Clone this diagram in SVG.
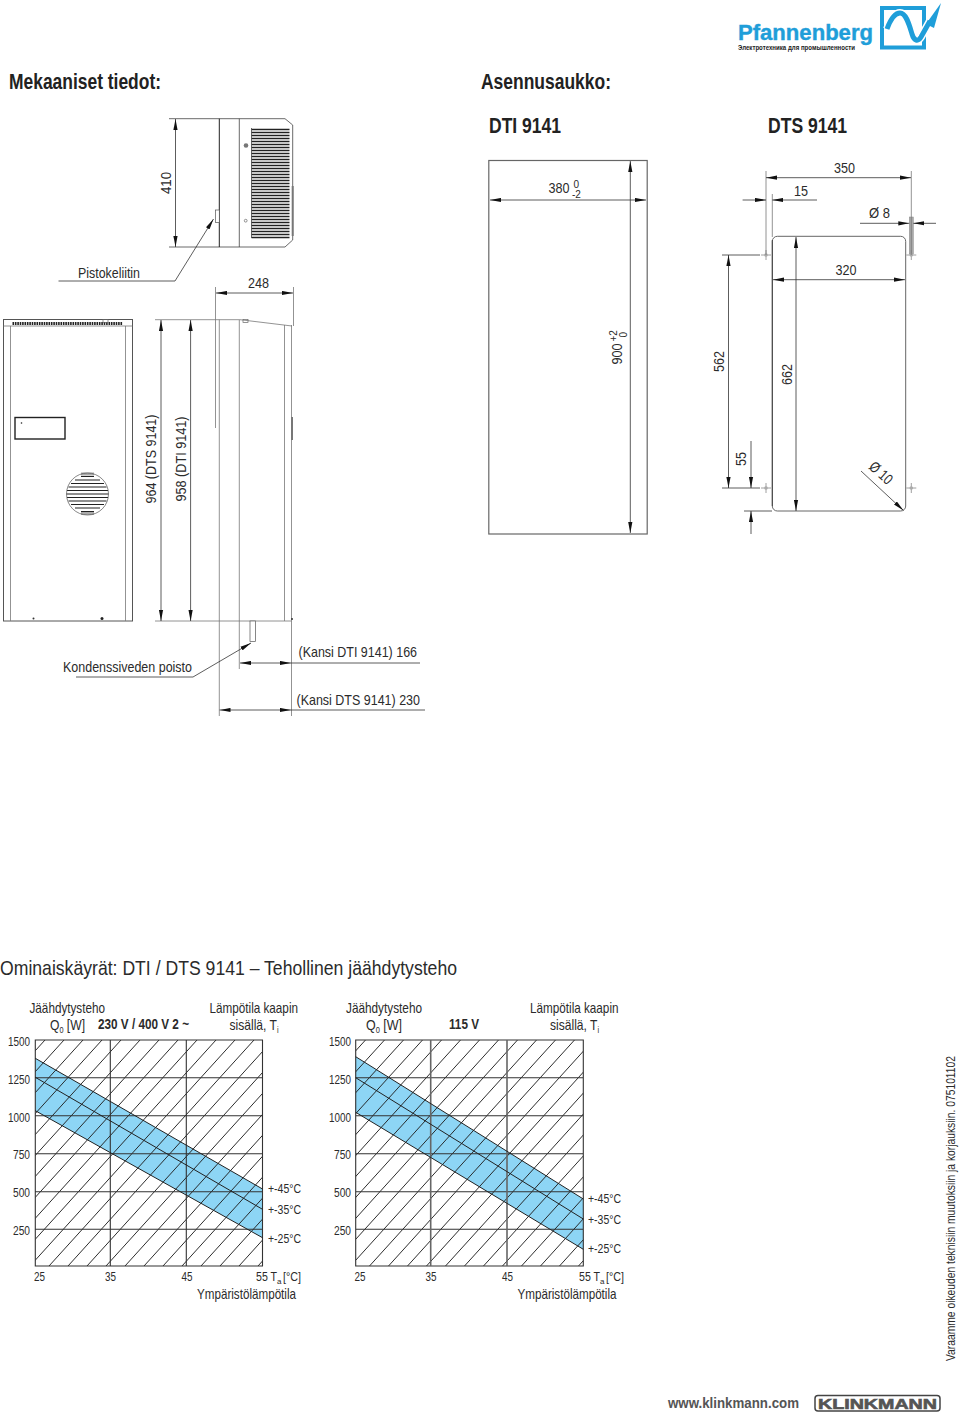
<svg xmlns="http://www.w3.org/2000/svg" width="960" height="1413" viewBox="0 0 960 1413">
<style>
text{font-family:"Liberation Sans",Arial,sans-serif;fill:#2b2b2b}
.t{font-size:15px}
.s{font-size:12px}
.xs{font-size:10px}
.h{font-size:22px;font-weight:bold;fill:#222}
.l{fill:none;stroke:#444;stroke-width:.8}
.g{fill:none;stroke:#777;stroke-width:.8}
.k{fill:none;stroke:#222;stroke-width:1}
.d{fill:none;stroke:#333;stroke-width:.8}
.a{marker-start:url(#ar);marker-end:url(#ar)}
.grid{fill:none;stroke:#333;stroke-width:1.1}
.grid2{fill:none;stroke:#666;stroke-width:1.6}
.hat{fill:none;stroke:#222;stroke-width:.95}
.band{fill:#8dd5f5}
</style>
<defs>
<marker id="ar" viewBox="0 0 11 5" refX="11" refY="2.500" markerWidth="11" markerHeight="5" markerUnits="userSpaceOnUse" orient="auto-start-reverse"><path d="M0 .4L11 2.500L0 4.600z" fill="#111"/></marker>
<clipPath id="c1"><rect x="35.300" y="1040" width="227.300" height="226"/></clipPath>
<clipPath id="c2"><rect x="355.700" y="1040" width="227.600" height="226"/></clipPath>
<path id="hatch" d="M45 1040l-205 226M64 1040l-205 226M83 1040l-205 226M102 1040l-205 226M121 1040l-205 226M140 1040l-205 226M159 1040l-205 226M178 1040l-205 226M197 1040l-205 226M216 1040l-205 226M235 1040l-205 226M254 1040l-205 226M273 1040l-205 226M292 1040l-205 226M311 1040l-205 226M330 1040l-205 226M349 1040l-205 226M368 1040l-205 226M387 1040l-205 226M406 1040l-205 226M425 1040l-205 226M444 1040l-205 226M463 1040l-205 226"/>
<g id="cr"><path d="M-5 0H5M0-5V5" stroke="#888" stroke-width=".8"/><circle r="1.800" fill="#aaa"/></g>
</defs>

<g id="logo-pfannenberg">
<text x="738" y="39.500" textLength="135" lengthAdjust="spacingAndGlyphs" style="font-size:22px;font-weight:bold;fill:#1f9ed9;stroke:#1f9ed9;stroke-width:.4">Pfannenberg</text>
<text x="738" y="49.500" textLength="117" lengthAdjust="spacingAndGlyphs" style="font-size:7px;font-weight:bold;fill:#222">Электротехника для промышленности</text>
<rect x="882" y="8" width="42" height="39.500" fill="#fff" stroke="#1f9ed9" stroke-width="4"/>
<path d="M887 29C891 18 895 13 900 13C906 13 909 24 912 34C914 41 918 42 921 37L935 12" fill="none" stroke="#fff" stroke-width="8"/>
<path d="M887 29C891 18 895 13 900 13C906 13 909 24 912 34C914 41 918 42 921 37L930 21" fill="none" stroke="#1f9ed9" stroke-width="5"/>
<path d="M926 24L941 3L934 28z" fill="#1f9ed9"/>
</g>

<g id="headings">
<text class="h" x="9" y="89" textLength="152" lengthAdjust="spacingAndGlyphs">Mekaaniset tiedot:</text>
<text class="h" x="481" y="89" textLength="130" lengthAdjust="spacingAndGlyphs">Asennusaukko:</text>
<text class="h" x="489" y="133" textLength="72" lengthAdjust="spacingAndGlyphs">DTI 9141</text>
<text class="h" x="768" y="133" textLength="79" lengthAdjust="spacingAndGlyphs">DTS 9141</text>
<text x="0" y="975" textLength="457" lengthAdjust="spacingAndGlyphs" style="font-size:21px">Ominaiskäyrät: DTI / DTS 9141 – Tehollinen jäähdytysteho</text>
</g>

<g id="top-view">
<path class="l" d="M169 118.700H285L292.700 125V240L285 247H169"/>
<path class="k" d="M219.300 118.700V247"/><path class="l" d="M239.300 118.700V247"/>
<path d="M292.700 186V236" stroke="#777" stroke-width="2" fill="none"/>
<rect x="215.500" y="210" width="3.800" height="12.500" fill="#fff" stroke="#555" stroke-width=".7"/>
<circle cx="246" cy="145.500" r="2.300" fill="#777"/><circle cx="245.700" cy="220.700" r="1.400" fill="#fff" stroke="#666" stroke-width=".7"/>
<path stroke="#222" stroke-width="1.350" fill="none" d="M251.500 129.500H289.500M251.500 132.500H289.500M251.500 135.500H289.500M251.500 138.500H289.500M251.500 141.500H289.500M251.500 144.500H289.500M251.500 147.500H289.500M251.500 150.500H289.500M251.500 153.500H289.500M251.500 156.500H289.500M251.500 159.500H289.500M251.500 162.500H289.500M251.500 165.500H289.500M251.500 168.500H289.500M251.500 171.500H289.500M251.500 174.500H289.500M251.500 177.500H289.500M251.500 180.500H289.500M251.500 183.500H289.500M251.500 186.500H289.500M251.500 189.500H289.500M251.500 192.500H289.500M251.500 195.500H289.500M251.500 198.500H289.500M251.500 201.500H289.500M251.500 204.500H289.500M251.500 207.500H289.500M251.500 210.500H289.500M251.500 213.500H289.500M251.500 216.500H289.500M251.500 219.500H289.500M251.500 222.500H289.500M251.500 225.500H289.500M251.500 228.500H289.500M251.500 231.500H289.500M251.500 234.500H289.500M251.500 237.500H289.500"/>
<path class="l" d="M251.500 128V238"/>
</g>

<g id="front-view">
<rect x="3.500" y="319.500" width="129" height="301.500" fill="none" stroke="#555"/>
<path class="g" d="M3.500 326H132.500M10.500 326V621M125.500 326V621"/>
<path d="M12.500 323.500H122.500" stroke="#222" stroke-width="3.200" stroke-dasharray="1.600 .8" fill="none"/>
<rect x="103" y="319.500" width="5" height="3" fill="none" stroke="#666" stroke-width=".7"/>
<rect x="15" y="417.500" width="50" height="21.500" fill="#fff" stroke="#222" stroke-width="1.400"/>
<circle cx="21.500" cy="423" r=".8" fill="#222"/>
<circle cx="33.500" cy="618.500" r="1" fill="#333"/><circle cx="102" cy="618.500" r="1.500" fill="#222"/>
<rect x="81" y="472.500" width="13" height="3" fill="#aaa"/><rect x="81" y="512" width="13" height="3" fill="#aaa"/>
<path stroke="#222" stroke-width="1.200" fill="none" d="M81 476.500H94M75 480H100M71 483.500H104M68.500 487H106.500M67 490.500H108M66.500 494H108.500M67 497.500H108M68.500 501H106.500M71 504.500H104M75 508H100M81 511.500H94"/>
<circle cx="87.500" cy="494" r="21" fill="none" stroke="#555" stroke-width=".7"/>
</g>

<g id="side-view">
<path class="g" d="M155 319.700H240L292 326M155 621H291.500"/>
<path class="g" d="M215.500 287V428M219.300 319.700V716M239.300 320V669M284.500 325V621M291.500 325V716M293.500 287V326"/>
<path d="M292 417V440" stroke="#777" stroke-width="2" fill="none"/>
<rect x="250" y="621" width="5.500" height="20.500" fill="#fff" stroke="#555" stroke-width=".7"/>
<rect x="243" y="319.500" width="5" height="3" fill="none" stroke="#666" stroke-width=".7"/>
<circle cx="292" cy="619" r="1" fill="#333"/>
</g>

<g id="cutout-dti">
<rect x="488.800" y="160.500" width="158.400" height="373.500" fill="none" stroke="#666" stroke-width="1.200"/>
</g>

<g id="cutout-dts">
<rect x="772.300" y="236.300" width="133.400" height="274.700" rx="5" fill="none" stroke="#666"/>
<path d="M772.300 240V506" stroke="#444" fill="none"/>
<rect x="909.300" y="217" width="4" height="37" fill="#aaa" stroke="#888" stroke-width=".5"/>
<use href="#cr" x="766" y="255"/><use href="#cr" x="766" y="488"/><use href="#cr" x="911.300" y="255"/><use href="#cr" x="911.300" y="488"/>
</g>

<g id="connectors">
<path class="d a" d="M175.500 119V247"/>
<path class="d" d="M58.500 281H175L213.500 219" marker-end="url(#ar)"/>
<path class="d a" d="M216 293H293"/>
<path class="d a" d="M161 320V621"/>
<path class="d a" d="M190.600 320V621"/>
<path class="d" d="M76 677H193L251 643" marker-end="url(#ar)"/>
<path class="d a" d="M240 663H291"/><path class="d" d="M291 663H420"/>
<path class="d a" d="M219.500 710H291"/><path class="d" d="M291 710H425"/>
<path class="d a" d="M490 200H646"/>
<path class="d a" d="M630.300 161V533"/>
<path class="g" d="M766 171V255M772.300 194V237M911.300 171V255"/>
<path class="d a" d="M766 177.700H911"/>
<path class="d" d="M742.600 200H766" marker-end="url(#ar)"/><path class="d" d="M817 200H772.300" marker-end="url(#ar)"/>
<path class="d" d="M860 223.300H909.300" marker-end="url(#ar)"/><path class="d" d="M936 223.300H913.300" marker-end="url(#ar)"/>
<path class="d" d="M722 255H760M722 488H760M744 511H772"/>
<path class="d a" d="M728.500 255V488"/>
<path class="d" d="M751 441V488" marker-end="url(#ar)"/><path class="d" d="M751 534V511" marker-end="url(#ar)"/>
<path class="d a" d="M796 237V511"/>
<path class="d a" d="M773 279.700H905"/>
<path class="d" d="M861 471L903.500 510.500" marker-end="url(#ar)"/>
</g>

<g id="dimension-labels">
<text class="t" transform="translate(171,194) rotate(-90)" textLength="22" lengthAdjust="spacingAndGlyphs">410</text>
<text class="t" x="78" y="277.500" textLength="62" lengthAdjust="spacingAndGlyphs">Pistokeliitin</text>
<text class="t" x="248" y="288" textLength="21" lengthAdjust="spacingAndGlyphs">248</text>
<text class="t" transform="translate(156,503.500) rotate(-90)" textLength="89" lengthAdjust="spacingAndGlyphs">964 (DTS 9141)</text>
<text class="t" transform="translate(186,501.500) rotate(-90)" textLength="85" lengthAdjust="spacingAndGlyphs">958 (DTI 9141)</text>
<text class="t" x="63" y="672" textLength="129" lengthAdjust="spacingAndGlyphs">Kondenssiveden poisto</text>
<text class="t" x="298.500" y="657" textLength="118.500" lengthAdjust="spacingAndGlyphs">(Kansi DTI 9141) 166</text>
<text class="t" x="296.500" y="704.500" textLength="123.500" lengthAdjust="spacingAndGlyphs">(Kansi DTS 9141) 230</text>
<text class="t" x="548.500" y="193" textLength="21" lengthAdjust="spacingAndGlyphs">380</text>
<text class="xs" x="573.500" y="188">0</text>
<text class="xs" x="572" y="198">-2</text>
<text class="t" transform="translate(622,364.500) rotate(-90)" textLength="21" lengthAdjust="spacingAndGlyphs">900</text>
<text class="xs" transform="translate(617,341.500) rotate(-90)">+2</text>
<text class="xs" transform="translate(627,337.500) rotate(-90)">0</text>
<text class="t" x="834" y="172.500" textLength="21" lengthAdjust="spacingAndGlyphs">350</text>
<text class="t" x="794" y="196" textLength="14" lengthAdjust="spacingAndGlyphs">15</text>
<text class="t" x="869" y="217.500" textLength="21" lengthAdjust="spacingAndGlyphs">Ø 8</text>
<text class="t" x="835.500" y="274.500" textLength="21" lengthAdjust="spacingAndGlyphs">320</text>
<text class="t" transform="translate(724,372) rotate(-90)" textLength="21" lengthAdjust="spacingAndGlyphs">562</text>
<text class="t" transform="translate(792,385) rotate(-90)" textLength="21" lengthAdjust="spacingAndGlyphs">662</text>
<text class="t" transform="translate(746,466) rotate(-90)" textLength="14" lengthAdjust="spacingAndGlyphs">55</text>
<text class="t" transform="translate(868,468) rotate(42)" textLength="26" lengthAdjust="spacingAndGlyphs">Ø 10</text>
</g>

<g id="chart-230v">
<path class="band" d="M35.300 1058.300L262.500 1189V1237.700L35.300 1110.700z"/>
<g clip-path="url(#c1)"><use href="#hatch" class="hat"/></g>
<path class="grid" d="M35.300 1040H262.500V1266H35.300zM110.300 1040V1266M186.300 1040V1266M35.300 1077.700H262.500M35.300 1115.700H262.500M35.300 1153.700H262.500M35.300 1191.700H262.500M35.300 1229.300H262.500"/>
<path class="k" d="M35.300 1058.300L262.500 1189M35.300 1077.300L262.500 1209.300M35.300 1110.700L262.500 1237.700"/>
<text class="s" x="8" y="1045.500" textLength="22" lengthAdjust="spacingAndGlyphs">1500</text>
<text class="s" x="8" y="1083.500" textLength="22" lengthAdjust="spacingAndGlyphs">1250</text>
<text class="s" x="8" y="1121.500" textLength="22" lengthAdjust="spacingAndGlyphs">1000</text>
<text class="s" x="13" y="1159" textLength="17" lengthAdjust="spacingAndGlyphs">750</text>
<text class="s" x="13" y="1197" textLength="17" lengthAdjust="spacingAndGlyphs">500</text>
<text class="s" x="13" y="1235" textLength="17" lengthAdjust="spacingAndGlyphs">250</text>
<text class="s" x="34" y="1281" textLength="11" lengthAdjust="spacingAndGlyphs">25</text>
<text class="s" x="105" y="1281" textLength="11" lengthAdjust="spacingAndGlyphs">35</text>
<text class="s" x="181.500" y="1281" textLength="11" lengthAdjust="spacingAndGlyphs">45</text>
<text class="s" x="256" y="1281" textLength="21" lengthAdjust="spacingAndGlyphs">55 T</text>
<text x="277" y="1284" style="font-size:8px">a</text>
<text class="s" x="283" y="1281" textLength="18" lengthAdjust="spacingAndGlyphs">[°C]</text>
<text class="t" x="29.500" y="1012.500" textLength="75.500" lengthAdjust="spacingAndGlyphs">Jäähdytysteho</text>
<text class="t" x="50" y="1030" textLength="35" lengthAdjust="spacingAndGlyphs">Q<tspan style="font-size:9px" dy="3">0</tspan><tspan dy="-3"> [W]</tspan></text>
<text class="t" x="98" y="1029" textLength="91" lengthAdjust="spacingAndGlyphs" style="font-weight:bold">230 V / 400 V 2 ~</text>
<text class="t" x="209.500" y="1013" textLength="88.500" lengthAdjust="spacingAndGlyphs">Lämpötila kaapin</text>
<text class="t" x="229.500" y="1030" textLength="49" lengthAdjust="spacingAndGlyphs">sisällä, T<tspan style="font-size:9px" dy="3">i</tspan></text>
<text class="s" x="268" y="1193" textLength="33" lengthAdjust="spacingAndGlyphs">+-45°C</text>
<text class="s" x="268" y="1214" textLength="33" lengthAdjust="spacingAndGlyphs">+-35°C</text>
<text class="s" x="268" y="1243" textLength="33" lengthAdjust="spacingAndGlyphs">+-25°C</text>
<text class="t" x="197" y="1299" textLength="99" lengthAdjust="spacingAndGlyphs">Ympäristölämpötila</text>
</g>

<g id="chart-115v">
<path class="band" d="M355.700 1056.700L583.300 1199V1249.300L355.700 1112.300z"/>
<g clip-path="url(#c2)"><use href="#hatch" class="hat" x="320.500"/></g>
<path class="grid" d="M355.700 1040H583.300V1266H355.700zM355.700 1077.700H583.300M355.700 1115.700H583.300M355.700 1153.700H583.300M355.700 1191.700H583.300M355.700 1229.300H583.300"/>
<path class="grid2" d="M430.700 1040V1266M507 1040V1266"/>
<path class="k" d="M355.700 1056.700L583.300 1199M355.700 1077.700L583.300 1219M355.700 1112.300L583.300 1249.300"/>
<text class="s" x="329" y="1045.500" textLength="22" lengthAdjust="spacingAndGlyphs">1500</text>
<text class="s" x="329" y="1083.500" textLength="22" lengthAdjust="spacingAndGlyphs">1250</text>
<text class="s" x="329" y="1121.500" textLength="22" lengthAdjust="spacingAndGlyphs">1000</text>
<text class="s" x="334" y="1159" textLength="17" lengthAdjust="spacingAndGlyphs">750</text>
<text class="s" x="334" y="1197" textLength="17" lengthAdjust="spacingAndGlyphs">500</text>
<text class="s" x="334" y="1235" textLength="17" lengthAdjust="spacingAndGlyphs">250</text>
<text class="s" x="354.500" y="1281" textLength="11" lengthAdjust="spacingAndGlyphs">25</text>
<text class="s" x="425.500" y="1281" textLength="11" lengthAdjust="spacingAndGlyphs">35</text>
<text class="s" x="502" y="1281" textLength="11" lengthAdjust="spacingAndGlyphs">45</text>
<text class="s" x="579" y="1281" textLength="21" lengthAdjust="spacingAndGlyphs">55 T</text>
<text x="600" y="1284" style="font-size:8px">a</text>
<text class="s" x="606" y="1281" textLength="18" lengthAdjust="spacingAndGlyphs">[°C]</text>
<text class="t" x="346" y="1012.500" textLength="76" lengthAdjust="spacingAndGlyphs">Jäähdytysteho</text>
<text class="t" x="366" y="1030" textLength="36" lengthAdjust="spacingAndGlyphs">Q<tspan style="font-size:9px" dy="3">0</tspan><tspan dy="-3"> [W]</tspan></text>
<text class="t" x="449" y="1029" textLength="30" lengthAdjust="spacingAndGlyphs" style="font-weight:bold">115 V</text>
<text class="t" x="530" y="1013" textLength="88.500" lengthAdjust="spacingAndGlyphs">Lämpötila kaapin</text>
<text class="t" x="550" y="1030" textLength="49" lengthAdjust="spacingAndGlyphs">sisällä, T<tspan style="font-size:9px" dy="3">i</tspan></text>
<text class="s" x="588" y="1203" textLength="33" lengthAdjust="spacingAndGlyphs">+-45°C</text>
<text class="s" x="588" y="1224" textLength="33" lengthAdjust="spacingAndGlyphs">+-35°C</text>
<text class="s" x="588" y="1253" textLength="33" lengthAdjust="spacingAndGlyphs">+-25°C</text>
<text class="t" x="517.500" y="1299" textLength="99" lengthAdjust="spacingAndGlyphs">Ympäristölämpötila</text>
</g>

<g id="footer">
<text transform="translate(955,1361) rotate(-90)" textLength="305" lengthAdjust="spacingAndGlyphs" style="font-size:12px">Varaamme oikeuden teknisiin muutoksiin ja korjauksiin. 075101102</text>
<text x="668" y="1408" textLength="131" lengthAdjust="spacingAndGlyphs" style="font-size:14px;font-weight:bold;fill:#555">www.klinkmann.com</text>
<rect x="815" y="1395.500" width="125" height="15.500" rx="3" fill="none" stroke="#444" stroke-width="1.500"/>
<text x="818" y="1408.500" textLength="119" lengthAdjust="spacingAndGlyphs" style="font-size:14px;font-weight:bold;fill:#555;stroke:#555;stroke-width:.6">KLINKMANN</text>
</g>
</svg>
